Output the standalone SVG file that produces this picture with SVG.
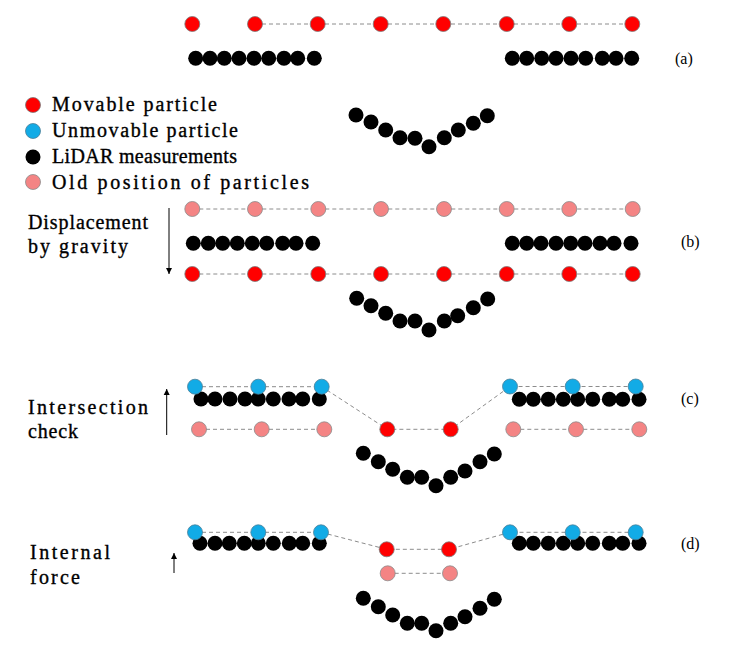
<svg xmlns="http://www.w3.org/2000/svg" width="733" height="647" viewBox="0 0 733 647">
<style>
.r{fill:#ff0000;stroke:#7a7a7a;stroke-width:0.8}
.b{fill:#12abe6;stroke:#4a7f98;stroke-width:0.8}
.p{fill:#f48484;stroke:#8a8a8a;stroke-width:0.8}
.k{fill:#000}
.d{stroke:#8c8c8c;stroke-width:1;stroke-dasharray:4 3;fill:none}
.a{stroke:#000;stroke-width:1;fill:none}
.t{font-family:"Liberation Serif","DejaVu Serif",serif;font-size:20px;fill:#000;stroke:#000;stroke-width:0.35}
.l{font-family:"Liberation Serif","DejaVu Serif",serif;font-size:16px;fill:#000}
</style>
<defs>
<marker id="ah" viewBox="0 0 10 10" refX="10" refY="5" markerWidth="6" markerHeight="7" markerUnits="userSpaceOnUse" orient="auto"><path d="M0,0 L10,5 L0,10 z" fill="#000"/></marker>
</defs>
<rect width="733" height="647" fill="#fff"/>

<g id="connectors">
<line class="d" x1="255" y1="24" x2="632.3" y2="24"/>
<line class="d" x1="192.3" y1="209" x2="632.7" y2="209"/>
<line class="d" x1="192.3" y1="274" x2="632.7" y2="274"/>
<polyline class="d" points="195,386.7 321.7,386.7 387.3,429.3 450.7,429.3 510,386.5 635.7,386.5"/>
<line class="d" x1="199" y1="429.3" x2="324.3" y2="429.3"/>
<line class="d" x1="513.3" y1="429.3" x2="639.3" y2="429.3"/>
<polyline class="d" points="195,532.3 321,532.3 386.7,549.3 449,549.3 510,532.3 635.7,532.3"/>
<line class="d" x1="387.7" y1="573.3" x2="450" y2="573.3"/>
<line class="a" x1="169" y1="208" x2="169" y2="274" marker-end="url(#ah)"/>
<line class="a" x1="166.7" y1="435" x2="166.7" y2="389" marker-end="url(#ah)"/>
<line class="a" x1="174" y1="573" x2="174" y2="553" marker-end="url(#ah)"/>
</g>

<g id="legend">
<circle class="r" cx="33" cy="105" r="7.5"/>
<circle class="b" cx="33" cy="131" r="7.5"/>
<circle class="k" cx="33" cy="157" r="7.5"/>
<circle class="p" cx="33" cy="182" r="7.5"/>
<text class="t" x="52" y="111" textLength="165" lengthAdjust="spacing">Movable particle</text>
<text class="t" x="52" y="137" textLength="186" lengthAdjust="spacing">Unmovable particle</text>
<text class="t" x="52" y="163" textLength="185" lengthAdjust="spacing">LiDAR measurements</text>
<text class="t" x="52" y="188.5" textLength="257" lengthAdjust="spacing">Old position of particles</text>
</g>

<g id="panel-a">
<g class="r">
<circle cx="192.3" cy="24" r="7.5"/><circle cx="255" cy="24" r="7.5"/><circle cx="317.7" cy="24" r="7.5"/><circle cx="380.7" cy="24" r="7.5"/><circle cx="443.3" cy="24" r="7.5"/><circle cx="506.7" cy="24" r="7.5"/><circle cx="569.3" cy="24" r="7.5"/><circle cx="632.3" cy="24" r="7.5"/>
</g>
<g class="k">
<circle cx="195.7" cy="58.3" r="7.5"/><circle cx="210" cy="58.3" r="7.5"/><circle cx="224.3" cy="58.3" r="7.5"/><circle cx="239" cy="58.3" r="7.5"/><circle cx="254" cy="58.3" r="7.5"/><circle cx="268.7" cy="58.3" r="7.5"/><circle cx="284" cy="58.3" r="7.5"/><circle cx="297.7" cy="58.3" r="7.5"/><circle cx="314.3" cy="58.3" r="7.5"/>
<circle cx="512.3" cy="58.3" r="7.5"/><circle cx="526.7" cy="58.3" r="7.5"/><circle cx="541.7" cy="58.3" r="7.5"/><circle cx="556" cy="58.3" r="7.5"/><circle cx="571" cy="58.3" r="7.5"/><circle cx="585.7" cy="58.3" r="7.5"/><circle cx="602.3" cy="58.3" r="7.5"/><circle cx="616" cy="58.3" r="7.5"/><circle cx="631.7" cy="58.3" r="7.5"/>
<circle cx="356" cy="115" r="7.5"/><circle cx="371" cy="122" r="7.5"/><circle cx="385.7" cy="130" r="7.5"/><circle cx="400" cy="137.7" r="7.5"/><circle cx="415" cy="138.3" r="7.5"/><circle cx="429" cy="146.7" r="7.5"/><circle cx="444.3" cy="137.7" r="7.5"/><circle cx="458.3" cy="130" r="7.5"/><circle cx="473.3" cy="123.3" r="7.5"/><circle cx="487.3" cy="115.7" r="7.5"/>
</g>
<text class="l" x="675" y="63.5">(a)</text>
</g>

<g id="panel-b">
<text class="t" x="28" y="228.5" textLength="120" lengthAdjust="spacing">Displacement</text>
<text class="t" x="28" y="253" textLength="100" lengthAdjust="spacing">by gravity</text>
<g class="p">
<circle cx="192.3" cy="209" r="7.5"/><circle cx="255" cy="209" r="7.5"/><circle cx="318.3" cy="209" r="7.5"/><circle cx="381" cy="209" r="7.5"/><circle cx="444" cy="209" r="7.5"/><circle cx="506.7" cy="209" r="7.5"/><circle cx="569.3" cy="209" r="7.5"/><circle cx="632.7" cy="209" r="7.5"/>
</g>
<g class="r">
<circle cx="192.3" cy="274" r="7.5"/><circle cx="255" cy="274" r="7.5"/><circle cx="318.3" cy="274" r="7.5"/><circle cx="381" cy="274" r="7.5"/><circle cx="444" cy="274" r="7.5"/><circle cx="506.7" cy="274" r="7.5"/><circle cx="569.3" cy="274" r="7.5"/><circle cx="632.7" cy="274" r="7.5"/>
</g>
<g class="k">
<circle cx="193.3" cy="243.3" r="7.5"/><circle cx="208.3" cy="243.3" r="7.5"/><circle cx="222.7" cy="243.3" r="7.5"/><circle cx="237.3" cy="243.3" r="7.5"/><circle cx="252.3" cy="243.3" r="7.5"/><circle cx="266.7" cy="243.3" r="7.5"/><circle cx="282.7" cy="243.3" r="7.5"/><circle cx="296" cy="243.3" r="7.5"/><circle cx="312.7" cy="243.3" r="7.5"/>
<circle cx="512.3" cy="243.3" r="7.5"/><circle cx="526.7" cy="243.3" r="7.5"/><circle cx="541" cy="243.3" r="7.5"/><circle cx="556" cy="243.3" r="7.5"/><circle cx="570.7" cy="243.3" r="7.5"/><circle cx="585" cy="243.3" r="7.5"/><circle cx="600" cy="243.3" r="7.5"/><circle cx="614" cy="243.3" r="7.5"/><circle cx="631" cy="243.3" r="7.5"/>
<circle cx="356.7" cy="298.3" r="7.5"/><circle cx="371" cy="305.7" r="7.5"/><circle cx="385.7" cy="313.3" r="7.5"/><circle cx="400" cy="321" r="7.5"/><circle cx="415" cy="321" r="7.5"/><circle cx="429" cy="330" r="7.5"/><circle cx="444.3" cy="321" r="7.5"/><circle cx="457.7" cy="315.7" r="7.5"/><circle cx="473.3" cy="307.7" r="7.5"/><circle cx="487.7" cy="299" r="7.5"/>
</g>
<text class="l" x="681" y="246.5">(b)</text>
</g>

<g id="panel-c">
<text class="t" x="28" y="414" textLength="120" lengthAdjust="spacing">Intersection</text>
<text class="t" x="28" y="438" textLength="50" lengthAdjust="spacing">check</text>
<g class="k">
<circle cx="201" cy="399" r="7.5"/><circle cx="215" cy="399" r="7.5"/><circle cx="230" cy="399" r="7.5"/><circle cx="245" cy="399" r="7.5"/><circle cx="258.3" cy="399" r="7.5"/><circle cx="273.3" cy="399" r="7.5"/><circle cx="289" cy="399" r="7.5"/><circle cx="302.7" cy="399" r="7.5"/><circle cx="319.3" cy="399" r="7.5"/>
<circle cx="519.3" cy="399.3" r="7.5"/><circle cx="533.3" cy="399.3" r="7.5"/><circle cx="548.3" cy="399.3" r="7.5"/><circle cx="563.3" cy="399.3" r="7.5"/><circle cx="577.7" cy="399.3" r="7.5"/><circle cx="592.7" cy="399.3" r="7.5"/><circle cx="609.3" cy="399.3" r="7.5"/><circle cx="622.7" cy="399.3" r="7.5"/><circle cx="639" cy="399.3" r="7.5"/>
<circle cx="363.3" cy="453.3" r="7.5"/><circle cx="378.3" cy="461.7" r="7.5"/><circle cx="392.7" cy="469.3" r="7.5"/><circle cx="407.3" cy="477.3" r="7.5"/><circle cx="421.7" cy="477.3" r="7.5"/><circle cx="436" cy="485.7" r="7.5"/><circle cx="450.7" cy="477.3" r="7.5"/><circle cx="465" cy="471" r="7.5"/><circle cx="480" cy="461.7" r="7.5"/><circle cx="494.3" cy="454" r="7.5"/>
</g>
<g class="b">
<circle cx="195" cy="386.7" r="7.5"/><circle cx="258.3" cy="386.7" r="7.5"/><circle cx="321.7" cy="386.7" r="7.5"/>
<circle cx="510" cy="386.5" r="7.5"/><circle cx="572.7" cy="386.5" r="7.5"/><circle cx="635.7" cy="386.5" r="7.5"/>
</g>
<g class="p">
<circle cx="199" cy="429.3" r="7.5"/><circle cx="261.7" cy="429.3" r="7.5"/><circle cx="324.3" cy="429.3" r="7.5"/>
<circle cx="513.3" cy="429.3" r="7.5"/><circle cx="576" cy="429.3" r="7.5"/><circle cx="639.3" cy="429.3" r="7.5"/>
</g>
<g class="r">
<circle cx="387.3" cy="429.3" r="7.5"/><circle cx="450.7" cy="429.3" r="7.5"/>
</g>
<text class="l" x="681" y="403.5">(c)</text>
</g>

<g id="panel-d">
<text class="t" x="30" y="559" textLength="80" lengthAdjust="spacing">Internal</text>
<text class="t" x="30" y="584" textLength="50" lengthAdjust="spacing">force</text>
<g class="k">
<circle cx="200" cy="543.3" r="7.5"/><circle cx="215" cy="543.3" r="7.5"/><circle cx="229.3" cy="543.3" r="7.5"/><circle cx="244.3" cy="543.3" r="7.5"/><circle cx="258.3" cy="543.3" r="7.5"/><circle cx="273.3" cy="543.3" r="7.5"/><circle cx="289.3" cy="543.3" r="7.5"/><circle cx="302.7" cy="543.3" r="7.5"/><circle cx="319.3" cy="543.3" r="7.5"/>
<circle cx="519.3" cy="543.3" r="7.5"/><circle cx="533.3" cy="543.3" r="7.5"/><circle cx="548.3" cy="543.3" r="7.5"/><circle cx="563.3" cy="543.3" r="7.5"/><circle cx="577.7" cy="543.3" r="7.5"/><circle cx="592.7" cy="543.3" r="7.5"/><circle cx="609.3" cy="543.3" r="7.5"/><circle cx="622.7" cy="543.3" r="7.5"/><circle cx="639" cy="543.3" r="7.5"/>
<circle cx="363.3" cy="598.3" r="7.5"/><circle cx="378.3" cy="606.7" r="7.5"/><circle cx="392.7" cy="615" r="7.5"/><circle cx="407.3" cy="623.3" r="7.5"/><circle cx="421.7" cy="623.3" r="7.5"/><circle cx="436" cy="630.7" r="7.5"/><circle cx="450.7" cy="623.3" r="7.5"/><circle cx="465" cy="616.7" r="7.5"/><circle cx="480" cy="608.3" r="7.5"/><circle cx="494.3" cy="599.3" r="7.5"/>
</g>
<g class="b">
<circle cx="195" cy="532.3" r="7.5"/><circle cx="258.3" cy="532.3" r="7.5"/><circle cx="321" cy="532.3" r="7.5"/>
<circle cx="510" cy="532.3" r="7.5"/><circle cx="572.7" cy="532.3" r="7.5"/><circle cx="635.7" cy="532.3" r="7.5"/>
</g>
<g class="r">
<circle cx="386.7" cy="549.3" r="7.5"/><circle cx="449" cy="549.3" r="7.5"/>
</g>
<g class="p">
<circle cx="387.7" cy="573.3" r="7.5"/><circle cx="450" cy="573.3" r="7.5"/>
</g>
<text class="l" x="681" y="548.5">(d)</text>
</g>
</svg>
